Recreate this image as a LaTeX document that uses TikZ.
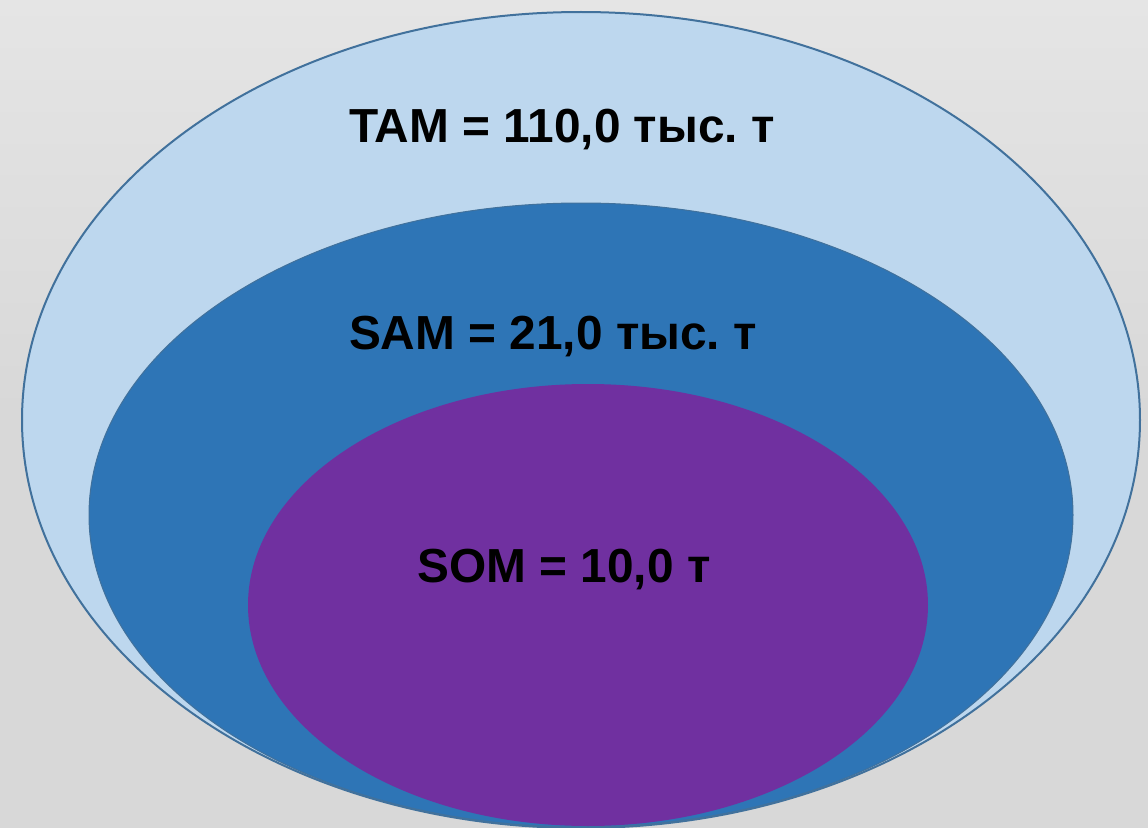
\documentclass[tikz,border=0pt]{standalone}
\usepackage{fontspec}
\setmainfont{Liberation Sans}
\definecolor{bgtop}{RGB}{229,229,229}
\definecolor{bgbot}{RGB}{216,216,216}
\definecolor{tamfill}{RGB}{189,215,238}
\definecolor{samfill}{RGB}{46,117,182}
\definecolor{somfill}{RGB}{112,48,160}
\definecolor{rim}{RGB}{65,113,156}

\begin{document}
\begin{tikzpicture}[x = 0.5pt, y = 0.5pt,
  label/.style = {font = \fontsize{23.9}{29}\selectfont\bfseries\frenchspacing, text = black}]
%\draw [help lines, step = 100] (0, 0) grid (1148, 827);
\useasboundingbox (0, 0) rectangle (1148, 827);
\clip (0, 0) rectangle (1148, 827);
\shade [top color = bgtop, bottom color = bgbot, middle color = bgbot] (0, 0) rectangle (1148, 827);
% market levels
\draw [fill = tamfill, draw = rim, line width = 1pt] (581, 407) ellipse [x radius = 559, y radius = 408];
\draw [fill = samfill, draw = rim, line width = 0.5pt] (581, 312) ellipse [x radius = 492, y radius = 312];
\fill [somfill] (588, 222) ellipse [x radius = 340, y radius = 221];
\node [label] (tam) at (562, 697) {TAM = 110,0 тыс. т};
\node [label] (sam) at (553, 490) {SAM = 21,0 тыс. т};
\node [label] (som) at (564, 257) {SOM = 10,0 т};
\end{tikzpicture}
\end{document}
